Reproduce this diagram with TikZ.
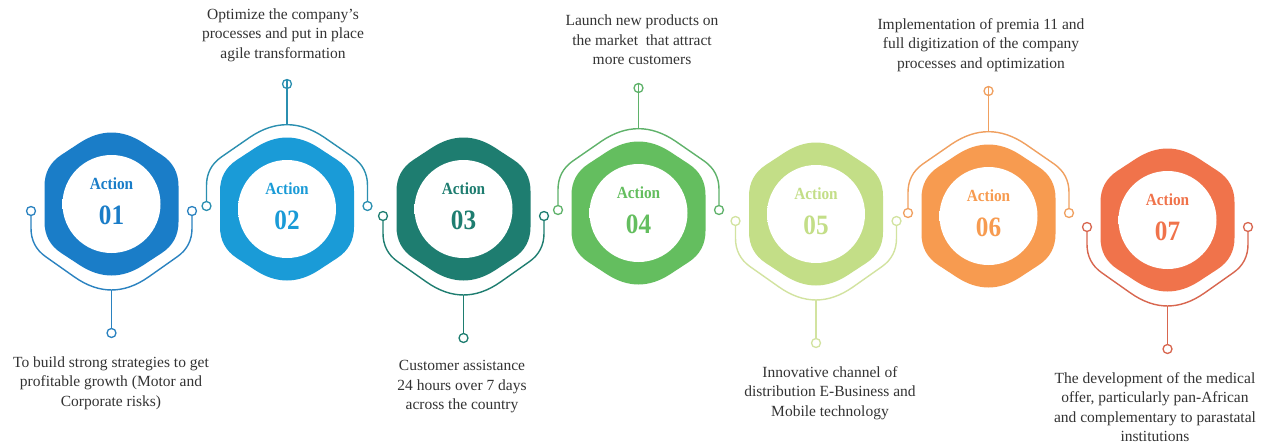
\documentclass[tikz,border=0pt]{standalone}
\usepackage{fontspec}
\setmainfont{Liberation Serif}

% soft grey rim inside each white disc
\pgfdeclareradialshading{holeshade}{\pgfpoint{0bp}{0bp}}{%
  color(0bp)=(white); color(39bp)=(white); color(45.5bp)=(black!10); color(50bp)=(black!42)}

\definecolor{a1}{HTML}{1A7DC8}
\definecolor{a2}{HTML}{1A9BD7}
\definecolor{a3}{HTML}{1E7D70}
\definecolor{a4}{HTML}{64BE5F}
\definecolor{a5}{HTML}{C3DE87}
\definecolor{a6}{HTML}{F79B50}
\definecolor{a7}{HTML}{F0734B}
\definecolor{arm1}{HTML}{2A82C0}
\definecolor{arm2}{HTML}{2B8FB0}
\definecolor{arm3}{HTML}{1E7D70}
\definecolor{arm4}{HTML}{5FB26A}
\definecolor{arm5}{HTML}{D2E3A0}
\definecolor{arm6}{HTML}{F0A060}
\definecolor{arm7}{HTML}{D8664F}
\definecolor{desctext}{HTML}{333333}

\begin{document}
\begin{tikzpicture}[x=1pt,y=-1pt,
  dot/.style={circle,draw,fill=white,line width=1.3pt,minimum size=9pt,inner sep=0pt},
  arm/.style={line width=1.4pt},
  actlbl/.style={font=\fontsize{17}{17}\selectfont\bfseries,inner sep=0pt},
  numlbl/.style={font=\fontsize{28}{28}\selectfont\bfseries,inner sep=0pt},
  desc/.style={font=\fontsize{15.5}{19.5}\selectfont,align=center,text=desctext,inner sep=0pt},
  % rounded hexagon with a white disc and its label
  pics/actionhex/.style={code={
    \fill (67,-18) -- (67,18) .. controls (67,31.3) and (61.4,41.7) .. (50.3,49)
      -- (32,61) .. controls (10.7,75) and (-10.7,75) .. (-32,61)
      -- (-50.3,49) .. controls (-61.4,41.7) and (-67,31.3) .. (-67,18)
      -- (-67,-18) .. controls (-67,-31.3) and (-61.4,-41.7) .. (-50.3,-49)
      -- (-32,-61) .. controls (-10.7,-75) and (10.7,-75) .. (32,-61)
      -- (50.3,-49) .. controls (61.4,-41.7) and (67,-31.3) .. (67,-18) -- cycle;
    \shade[shading=holeshade] (0,0) circle (49pt);
    \node[actlbl] (-act) at (0,-20) {\scalebox{.9}[1]{Action}};
    \node[numlbl] (-num) at (0,11) {\scalebox{.9}[1]{#1}};
  }},
  % arm wrapped under a hexagon, with a stem going down
  pics/lowarm/.style={code={
    \node[dot] (-l) at (-80.5,7) {};
    \node[dot] (-r) at (80.5,7) {};
    \node[dot] (-s) at (0,129) {};
    \coordinate (-t) at (0,86);
    \draw[arm] (-l.south) -- (-80.5,24.3) .. controls (-80.5,36.3) and (-75.6,45.8) .. (-65.8,52.7)
      -- (-37,73) .. controls (-12.3,90.3) and (12.3,90.3) .. (37,73)
      -- (65.8,52.7) .. controls (75.6,45.8) and (80.5,36.3) .. (80.5,24.3) -- (-r.south);
    \draw[arm] (-t) -- (-s.north);
  }},
  % arm wrapped over a hexagon, with a stem going up
  pics/higharm/.style={code={
    \node[dot] (-l) at (-80.5,-3) {};
    \node[dot] (-r) at (80.5,-3) {};
    \node[dot] (-s) at (0,-125) {};
    \coordinate (-t) at (0,-84);
    \draw[arm] (-l.north) -- (-80.5,-23.5) .. controls (-80.5,-35.5) and (-75.6,-45) .. (-65.8,-51.9)
      -- (-37,-71.8) .. controls (-12.3,-88.5) and (12.3,-88.5) .. (37,-71.8)
      -- (65.8,-51.9) .. controls (75.6,-45) and (80.5,-35.5) .. (80.5,-23.5) -- (-r.north);
    \draw[arm] (-t) -- (-s.north);
  }}
]
\useasboundingbox (0,0) rectangle (1270,447);
\fill[white] (0,0) rectangle (1270,447);

% arms
\pic[color=arm1] (w1) at (111.5,204) {lowarm};
\pic[color=arm2] (w2) at (287,209) {higharm};
\pic[color=arm3] (w3) at (463.5,209) {lowarm};
\pic[color=arm4] (w4) at (638.5,213) {higharm};
\pic[color=arm5] (w5) at (816,214) {lowarm};
\pic[color=arm6] (w6) at (988.5,216) {higharm};
\pic[color=arm7] (w7) at (1167.5,220) {lowarm};

% action hexagons
\pic[color=a1] (h1) at (111.5,204) {actionhex=01};
\pic[color=a2] (h2) at (287,209) {actionhex=02};
\pic[color=a3] (h3) at (463.5,209) {actionhex=03};
\pic[color=a4] (h4) at (638.5,213) {actionhex=04};
\pic[color=a5] (h5) at (816,214) {actionhex=05};
\pic[color=a6] (h6) at (988.5,216) {actionhex=06};
\pic[color=a7] (h7) at (1167.5,220) {actionhex=07};

% descriptions
\node[desc] (d2) at (283,35) {Optimize the company's\\processes and put in place\\agile transformation};
\node[desc] (d4) at (642,40) {Launch new products on\\the market \ that attract\\more customers};
\node[desc] (d6) at (981,45) {Implementation of premia 11 and\\full digitization of the company\\processes and optimization};
\node[desc] (d1) at (111,383) {To build strong strategies to get\\profitable growth (Motor and\\Corporate risks)};
\node[desc] (d3) at (462,387) {Customer assistance\\24 hours over 7 days\\across the country};
\node[desc] (d5) at (830,393) {Innovative channel of\\distribution E-Business and\\Mobile technology};
\node[desc] (d7) at (1155,407) {The development of the medical\\offer, particularly pan-African\\and complementary to parastatal\\institutions};
\end{tikzpicture}
\end{document}
